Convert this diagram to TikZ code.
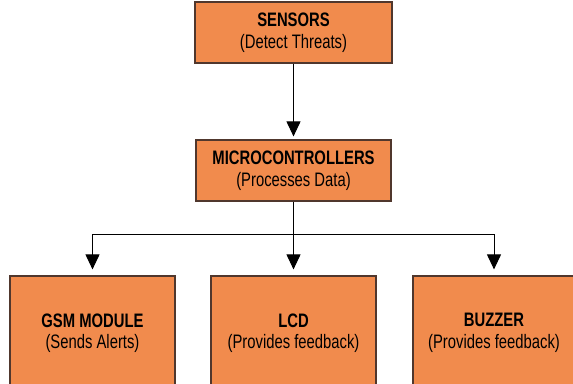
\documentclass[tikz,border=0pt]{standalone}
\usepackage{fontspec}
\setmainfont[FakeStretch=0.76]{Liberation Sans}
\usetikzlibrary{arrows.meta}

\definecolor{boxfill}{RGB}{241,139,77}
\definecolor{boxline}{RGB}{80,55,45}

\begin{document}
\begin{tikzpicture}[x=1pt, y=-1pt, line width=1pt,
		unit/.style={draw=boxline, fill=boxfill, line width=1.2pt, inner sep=0pt, align=center,
			font=\fontsize{19.5}{21.5}\selectfont},
		flow/.style={-{Triangle[width=14pt,length=15pt]}, black}]
					\useasboundingbox (0,0) rectangle (573,383);
					\clip (0,0) rectangle (573,383);
					\node[unit, minimum width=197pt, minimum height=61pt] (sensors) at (293.5,32.5) {\textbf{SENSORS}\\(Detect Threats)};
					\node[unit, minimum width=195pt, minimum height=61pt] (mcu) at (293.5,170.5) {\textbf{MICROCONTROLLERS}\\(Processes Data)};
					\node[unit, minimum width=165pt, minimum height=114pt] (gsm) at (92.5,333) {\textbf{GSM MODULE}\\(Sends Alerts)};
					\node[unit, minimum width=165pt, minimum height=114pt] (lcd) at (293.5,333) {\textbf{LCD}\\(Provides feedback)};
					\node[unit, minimum width=162pt, minimum height=114pt] (buzzer) at (494,333) {\textbf{BUZZER}\\(Provides feedback)};
					\coordinate (split) at (293.5,234);
					\draw[flow, shorten >=3pt] (sensors) -- (mcu);
					\draw (mcu) -- (split);
					\draw[flow, shorten >=6pt] (split) -| (gsm);
					\draw[flow, shorten >=6pt] (split) -- (lcd);
					\draw[flow, shorten >=6pt] (split) -| (buzzer);
				\end{tikzpicture}
\end{document}
